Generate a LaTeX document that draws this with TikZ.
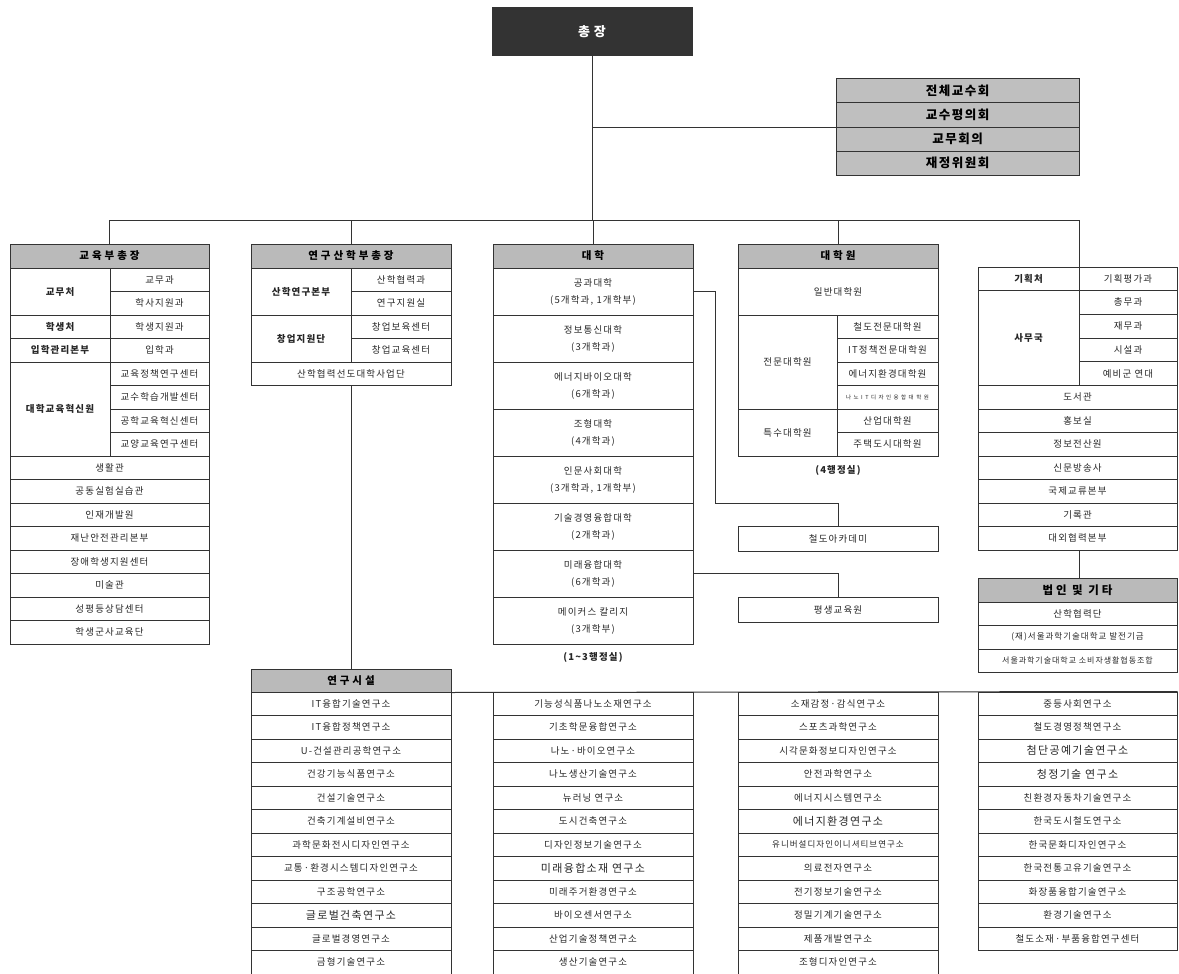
\documentclass[tikz,border=0pt]{standalone}
\usepackage{fontspec}
\setmainfont{Noto Sans CJK KR}[LetterSpace=12]
\newcommand\bigt{\fontsize{11}{12}\selectfont}
\newcommand\smallt{\fontsize{8.5}{10}\selectfont}
\newcommand\tinyt{\fontsize{5.5}{7}\selectfont\addfontfeature{LetterSpace=45}}
\newcommand\cellbox[7][]{%
  \pgfmathsetmacro\cbw{#5-(#3)}%
  \pgfmathsetmacro\cbh{#6-(#4)}%
  \node[cell,#1,minimum width=\cbw pt,minimum height=\cbh pt] (#2) at ({(#3+#5)/2},{(#4+#6)/2}) {#7};}
\tikzset{
  cell/.style={draw=black!80, line width=1pt, inner sep=0pt, align=center,
    font=\fontsize{9.5}{11}\selectfont, text=black!85},
  hdr/.style={fill=black!27, text=black, font=\bfseries\fontsize{10.5}{12}\selectfont\addfontfeature{LetterSpace=28}},
  hdrbig/.style={fill=black!27, text=black, font=\bfseries\fontsize{11.5}{13}\selectfont\addfontfeature{LetterSpace=25}},
  council/.style={fill=black!25, text=black, font=\bfseries\fontsize{12.5}{14}\selectfont},
  chief/.style={fill=black!80, text=white, font=\bfseries\fontsize{13}{15}\selectfont\addfontfeature{LetterSpace=30}},
  lbl/.style={font=\bfseries\fontsize{9.5}{11}\selectfont},
  two/.style={font=\fontsize{9.5}{17}\selectfont},
  note/.style={font=\bfseries\fontsize{9.5}{11}\selectfont, text=black!85, inner sep=0pt},
  conn/.style={draw=black!80, line width=1pt},
}
\begin{document}
\begin{tikzpicture}[x=1pt,y=-1pt]
\useasboundingbox (0,0) rectangle (1179,974);
% ---- top
\cellbox[chief]{pres}{492}{8}{692}{56}{총장}
\cellbox[council]{cA}{836}{79}{1079}{103}{전체교수회}
\cellbox[council]{cB}{836}{103}{1079}{127}{교수평의회}
\cellbox[council]{cC}{836}{127}{1079}{151}{교무회의}
\cellbox[council]{cD}{836}{151}{1079}{175}{재정위원회}
\coordinate (busY) at (0,220);
% ---- column 1
\cellbox[hdr]{eduH}{10}{244}{209}{268}{교육부총장}
\cellbox[lbl]{gyomu}{10}{268}{110}{315}{교무처}
\cellbox{gyomuA}{110}{268}{209}{291.5}{교무과}
\cellbox{gyomuB}{110}{291.5}{209}{315}{학사지원과}
\cellbox[lbl]{stud}{10}{315}{110}{338.5}{학생처}
\cellbox{studA}{110}{315}{209}{338.5}{학생지원과}
\cellbox[lbl]{admis}{10}{338.5}{110}{362}{입학관리본부}
\cellbox{admisA}{110}{338.5}{209}{362}{입학과}
\cellbox[lbl]{inno}{10}{362}{110}{456}{대학교육혁신원}
\foreach \txt [count=\i from 0] in {교육정책연구센터,교수학습개발센터,공학교육혁신센터,교양교육연구센터}
  {\cellbox{inno\i}{110}{362+23.5*\i}{209}{385.5+23.5*\i}{\txt}}
\foreach \txt [count=\i from 0] in {생활관,공동실험실습관,인재개발원,재난안전관리본부,장애학생지원센터,미술관,성평등상담센터,학생군사교육단}
  {\cellbox{ea\i}{10}{456+23.5*\i}{209}{479.5+23.5*\i}{\txt}}
% ---- column 2
\cellbox[hdr]{resH}{251}{244}{451}{268}{연구산학부총장}
\cellbox[lbl]{sanhak}{251}{268}{351}{315}{산학연구본부}
\cellbox{sanhakA}{351}{268}{451}{291.5}{산학협력과}
\cellbox{sanhakB}{351}{291.5}{451}{315}{연구지원실}
\cellbox[lbl]{startup}{251}{315}{351}{362}{창업지원단}
\cellbox{startupA}{351}{315}{451}{338.5}{창업보육센터}
\cellbox{startupB}{351}{338.5}{451}{362}{창업교육센터}
\cellbox{lead}{251}{362}{451}{385.5}{산학협력선도대학사업단}
% ---- column 3
\cellbox[hdr]{uniH}{493}{244}{693}{268}{대학}
\foreach \txt [count=\i from 1] in {{공과대학\\(5개학과, 1개학부)},{정보통신대학\\(3개학과)},{에너지바이오대학\\(6개학과)},{조형대학\\(4개학과)},{인문사회대학\\(3개학과, 1개학부)},{기술경영융합대학\\(2개학과)},{미래융합대학\\(6개학과)},{메이커스 칼리지\\(3개학부)}}
  {\cellbox[two]{u\i}{493}{268+47*(\i-1)}{693}{315+47*(\i-1)}{\txt}}
\node[note] (unote) at (593,657) {(1\textasciitilde3행정실)};
% ---- column 4
\cellbox[hdr]{gradH}{738}{244}{938}{268}{대학원}
\cellbox{gen}{738}{268}{938}{315}{일반대학원}
\cellbox{prof}{738}{315}{837}{409}{전문대학원}
\foreach \txt [count=\i from 0] in {철도전문대학원,IT정책전문대학원,에너지환경대학원,{\tinyt 나노IT디자인융합대학원}}
  {\cellbox{prof\i}{837}{315+23.5*\i}{938}{338.5+23.5*\i}{\txt}}
\cellbox{spec}{738}{409}{837}{456}{특수대학원}
\cellbox{specA}{837}{409}{938}{432.5}{산업대학원}
\cellbox{specB}{837}{432.5}{938}{456}{주택도시대학원}
\node[note] (gnote) at (838,470) {(4행정실)};
\cellbox{rail}{738}{526}{938}{551}{철도아카데미}
\cellbox{life}{738}{597}{938}{622}{평생교육원}
% ---- column 5
\cellbox[lbl]{plan}{978}{267}{1079}{290.5}{기획처}
\cellbox{planA}{1079}{267}{1177}{290.5}{기획평가과}
\cellbox[lbl]{office}{978}{290.5}{1079}{385.5}{사무국}
\foreach \txt [count=\i from 0] in {총무과,재무과,시설과,예비군 연대}
  {\cellbox{office\i}{1079}{290.5+23.75*\i}{1177}{314.25+23.75*\i}{\txt}}
\foreach \txt [count=\i from 0] in {도서관,홍보실,정보전산원,신문방송사,국제교류본부,기록관,대외협력본부}
  {\cellbox{pa\i}{978}{385.5+23.5*\i}{1177}{409+23.5*\i}{\txt}}
\cellbox[hdrbig]{corpH}{978}{578}{1177}{602}{법인 및 기타}
\cellbox{corpA}{978}{602}{1177}{625.5}{산학협력단}
\cellbox{corpB}{978}{625.5}{1177}{649}{\smallt (재)서울과학기술대학교 발전기금}
\cellbox{corpC}{978}{649}{1177}{672.5}{\fontsize{8}{9}\selectfont 서울과학기술대학교 소비자생활협동조합}
% ---- research institutes
\cellbox[hdr]{rH}{251}{669}{451}{692}{연구시설}
\foreach \txt [count=\i from 0] in {IT융합기술연구소,IT융합정책연구소,U-건설관리공학연구소,건강기능식품연구소,건설기술연구소,건축기계설비연구소,과학문화전시디자인연구소,교통·환경시스템디자인연구소,구조공학연구소,{\bigt 글로벌건축연구소},글로벌경영연구소,금형기술연구소}
  {\cellbox{ra\i}{251}{692+23.5*\i}{451}{715.5+23.5*\i}{\txt}}
\foreach \txt [count=\i from 0] in {기능성식품나노소재연구소,기초학문융합연구소,나노·바이오연구소,나노생산기술연구소,뉴러닝 연구소,도시건축연구소,디자인정보기술연구소,{\bigt 미래융합소재 연구소},미래주거환경연구소,바이오센서연구소,산업기술정책연구소,생산기술연구소}
  {\cellbox{rb\i}{493}{692+23.5*\i}{693}{715.5+23.5*\i}{\txt}}
\foreach \txt [count=\i from 0] in {소재감정·감식연구소,스포츠과학연구소,시각문화정보디자인연구소,안전과학연구소,에너지시스템연구소,{\bigt 에너지환경연구소},{\smallt 유니버설디자인이니셔티브연구소},의료전자연구소,전기정보기술연구소,정밀기계기술연구소,제품개발연구소,조형디자인연구소}
  {\cellbox{rc\i}{738}{692+23.5*\i}{938}{715.5+23.5*\i}{\txt}}
\foreach \txt [count=\i from 0] in {중등사회연구소,철도경영정책연구소,{\bigt 첨단공예기술연구소},{\bigt 청정기술 연구소},친환경자동차기술연구소,한국도시철도연구소,한국문화디자인연구소,한국전통고유기술연구소,화장품융합기술연구소,환경기술연구소,철도소재·부품융합연구센터}
  {\cellbox{rd\i}{978}{692+23.5*\i}{1177}{715.5+23.5*\i}{\txt}}
% ---- connectors
\coordinate (jog) at (715,0);
\coordinate (railY) at (0,503);
\draw[conn] (pres.south) -- (pres.south |- busY);
\draw[conn] (pres.south |- cB.south west) -- (cB.south west);
\draw[conn] (eduH.north |- busY) -- (plan.north east |- busY);
\draw[conn] (eduH.north |- busY) -- (eduH.north);
\draw[conn] (resH.north |- busY) -- (resH.north);
\draw[conn] (uniH.north |- busY) -- (uniH.north);
\draw[conn] (gradH.north |- busY) -- (gradH.north);
\draw[conn] (plan.north east |- busY) -- (plan.north east);
\draw[conn] (lead.south) -- (rH.north);
\draw[conn] (plan.north east |- pa6.south) -- (plan.north east |- corpH.north);
\draw[conn] (u1.east) -- (jog |- u1.east) -- (jog |- railY) -- (rail.north |- railY) -- (rail.north);
\draw[conn] (u7.east) -- (u7.east -| life.north) -- (life.north);
\draw[conn] (rH.south east) -- (rd0.north east);
\end{tikzpicture}
\end{document}
